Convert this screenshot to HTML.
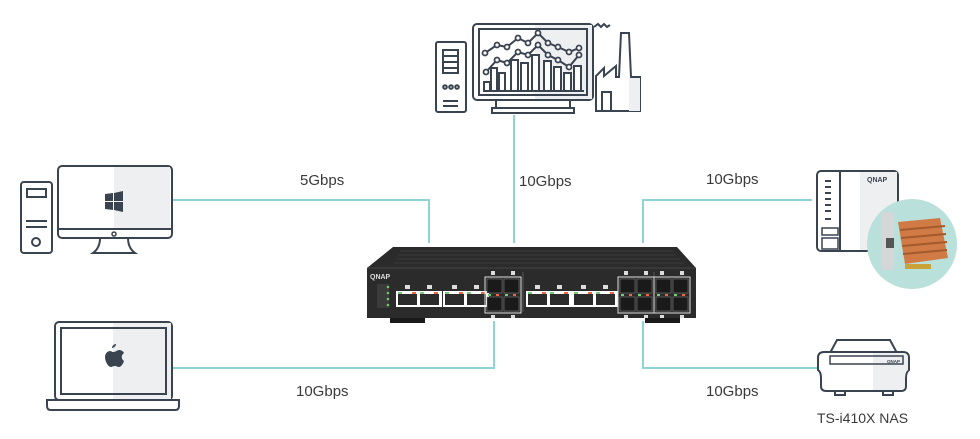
<!DOCTYPE html>
<html><head><meta charset="utf-8"><style>
body{margin:0;background:#fff;width:980px;height:439px;overflow:hidden;font-family:"Liberation Sans",sans-serif}
svg{position:absolute;left:0;top:0}
</style></head><body>
<svg width="980" height="439" viewBox="0 0 980 439">
<g stroke="#8fd4d4" stroke-width="2" fill="none">
<path d="M172 200H429V243"/>
<path d="M514 115V243"/>
<path d="M643 243V200H812"/>
<path d="M494 321V368H172"/>
<path d="M643 321V368H818"/>
</g>
<g font-size="15" fill="#3a3a3a">
<text x="300" y="185">5Gbps</text>
<text x="519" y="186">10Gbps</text>
<text x="706" y="184">10Gbps</text>
<text x="296" y="396">10Gbps</text>
<text x="706" y="396">10Gbps</text>
<text x="817" y="423" font-size="14">TS-i410X NAS</text>
</g>
<!-- desktop -->
<g stroke="#3a4350" stroke-width="2" fill="#fff">
<rect x="21" y="182" width="31" height="71" rx="3"/>
<rect x="27" y="189" width="19" height="8"/>
<path d="M26 221H47M26 227H47" />
<circle cx="36" cy="242" r="4"/>
<path d="M93 253 Q100 248 100 238 H128 Q128 248 135 253Z" fill="#fff"/>
<rect x="58" y="166" width="114" height="72" rx="4"/>
<path d="M114 167H170V229H114Z" fill="#eeeff1" stroke="none"/>
<path d="M59 229H171"/>
<circle cx="114" cy="234" r="2" stroke-width="1.5"/>
</g>
<path d="M105 194l8-1v8h-8zM114 193l9-2v10h-9zM105 202h8v8l-8-1zM114 202h9v10l-9-2z" fill="#3a4350"/>
<!-- laptop -->
<g stroke="#3a4350" stroke-width="2" fill="#fff">
<rect x="55" y="322" width="117" height="78" rx="4"/>
<path d="M113 323H171V399H113Z" fill="#eeeff1" stroke="none"/>
<rect x="61" y="328" width="105" height="66" fill="none"/>
<path d="M47 400H179V406Q179 410 175 410H51Q47 410 47 406Z"/>
</g>
<path d="M113 352c3 0 4-2 6-2 2 0 4 1 5 3-3 2-3 6 0 8-1 3-3 6-5 6-2 0-2-1-4-1s-3 1-4 1c-3 0-6-6-6-10 0-4 3-6 5-6 1 0 2 1 3 1zM116 344c0 2-2 4-4 4 0-2 2-4 4-4z" fill="#3a4350"/>
<!-- top: server+monitor+factory -->
<g stroke="#3a4350" stroke-width="2" fill="#fff">
<rect x="436" y="42" width="30" height="70" rx="2"/>
<path d="M443 50h15v23h-15zM443 56h15M443 62h15M443 68h15M443 101h15M443 106h15"/>
<circle cx="445" cy="87" r="1.8"/><circle cx="451" cy="87" r="1.8"/><circle cx="457" cy="87" r="1.8"/>
<path d="M596 111V76L604 68V76L616 66V77H619L621 33H629L631 77H640V111Z"/>
<path d="M629 78H640V111H629Z" fill="#eeeff1" stroke="none"/>
<rect x="602" y="92" width="9" height="19"/>
<path d="M594 27l4-3 3 3 3-3 3 3 3-2" fill="none"/>
<rect x="473" y="24" width="120" height="76" rx="4"/>
<path d="M535 25H592V99H535Z" fill="#eeeff1" stroke="none"/>
<rect x="479" y="29" width="108" height="66" fill="none"/>
<rect x="496" y="100" width="74" height="8"/>
<path d="M492 108H574V113H492Z"/>
</g>
<g stroke="#3a4350" stroke-width="2" fill="#fff">
<path d="M484 91H584" fill="none"/>
<rect x="484" y="82" width="6" height="9"/>
<rect x="491" y="68" width="6" height="23"/>
<rect x="499" y="73" width="6" height="18"/>
<rect x="511" y="60" width="7" height="31"/>
<rect x="521" y="63" width="7" height="28"/>
<rect x="532" y="55" width="7" height="36"/>
<rect x="544" y="61" width="7" height="30"/>
<rect x="554" y="67" width="7" height="24"/>
<rect x="564" y="73" width="7" height="18"/>
<rect x="574" y="66" width="7" height="25"/>
<polyline fill="none" points="485,53 497,45 507,47 518,38 528,43 538,33 548,43 558,47 569,52 579,48"/>
<polyline fill="none" points="486,72 497,60 507,63 518,52 528,55 538,45 548,55 558,60 569,67 579,55"/>
</g>
<g stroke="#3a4350" stroke-width="1.8" fill="#fff">
<circle cx="485" cy="53" r="2.5"/><circle cx="497" cy="45" r="2.5"/><circle cx="507" cy="47" r="2.5"/><circle cx="518" cy="38" r="2.5"/><circle cx="528" cy="43" r="2.5"/><circle cx="538" cy="33" r="2.5"/><circle cx="548" cy="43" r="2.5"/><circle cx="558" cy="47" r="2.5"/><circle cx="569" cy="52" r="2.5"/><circle cx="579" cy="48" r="2.5"/>
<circle cx="486" cy="72" r="2.5"/><circle cx="497" cy="60" r="2.5"/><circle cx="507" cy="63" r="2.5"/><circle cx="518" cy="52" r="2.5"/><circle cx="528" cy="55" r="2.5"/><circle cx="538" cy="45" r="2.5"/><circle cx="548" cy="55" r="2.5"/><circle cx="558" cy="60" r="2.5"/><circle cx="569" cy="67" r="2.5"/><circle cx="579" cy="55" r="2.5"/>
</g>
<!-- NAS right top -->
<g stroke="#3a4350" stroke-width="2" fill="#fff">
<rect x="817" y="171" width="81" height="80" rx="4"/>
<path d="M860 172H897V250H860Z" fill="#eeeff1" stroke="none"/>
<path d="M840 172V250"/>
<rect x="822" y="228" width="16" height="7" stroke-width="1.5"/>
<rect x="822" y="238" width="16" height="11" stroke-width="1.5"/>
</g>
<g fill="#3a4350"><rect x="825" y="180" width="6" height="2"/><rect x="825" y="186" width="6" height="2"/><rect x="825" y="192" width="6" height="2"/><rect x="825" y="198" width="6" height="2"/><rect x="825" y="204" width="6" height="2"/><rect x="825" y="210" width="6" height="2"/><rect x="825" y="218" width="6" height="2"/></g>
<text x="867" y="182" font-size="7" font-weight="bold" fill="#3a4350">QNAP</text>
<circle cx="912" cy="244" r="45" fill="#b9e0da"/>
<rect x="882" y="212" width="12" height="58" fill="#d4d6d8"/>
<path d="M898 222L940 218L948 258L905 264Z" fill="#d07a45"/>
<path d="M900 230L945 226M901 238L946 234M902 246L947 242M903 254L947 250" stroke="#a45a2c" stroke-width="2"/>
<rect x="886" y="238" width="8" height="10" fill="#555"/>
<rect x="905" y="264" width="26" height="5" fill="#c9a33a"/>
<!-- TS-i410X -->
<g stroke="#3a4350" stroke-width="2" fill="#fff">
<path d="M830 353L837 340H890L897 353Z"/>
<path d="M818 358Q818 352 824 352H903Q909 352 909 358V370Q906 372 906 378V386Q906 391 901 391H826Q821 391 821 386V378Q821 372 818 370Z"/>
<path d="M873 353H903Q908 353 908 358V370Q905 372 905 378V386Q905 390 901 390H873Z" fill="#eeeff1" stroke="none"/>
<rect x="830" y="356" width="73" height="8" fill="none" stroke-width="1.5"/>
<path d="M835 391v4h10v-4M883 391v4h10v-4" fill="none"/>
</g>
<text x="887" y="363" font-size="4.5" font-weight="bold" fill="#3a4350">QNAP</text>
<!-- switch -->
<path d="M393 247H677L696 268V318H367V268Z" fill="#2b2b2b"/>
<path d="M400 251H673M398 255H676M396 259H680M394 263H684" stroke="#3a3a3a" stroke-width="1"/>
<path d="M367 268H696" stroke="#444" stroke-width="1"/>
<rect x="390" y="318" width="35" height="5" fill="#1a1a1a"/>
<rect x="645" y="318" width="35" height="5" fill="#1a1a1a"/>
<text x="370" y="279" font-size="7" font-weight="bold" fill="#ddd">QNAP</text>
<rect x="377" y="284" width="12" height="24" fill="#3b3b3b"/>
<g fill="#6c6"><circle cx="388" cy="287" r="1.3"/><circle cx="388" cy="293" r="1.3"/><circle cx="388" cy="299" r="1.3"/><circle cx="388" cy="305" r="1.3"/></g>
<path d="M523 272V312M654 272V312" stroke="#555"/>
<g id="rj">
<rect x="396" y="291" width="46" height="16" fill="#fff"/>
<rect x="398" y="294" width="19" height="11" fill="#2b2b2b"/><rect x="420" y="294" width="19" height="11" fill="#2b2b2b"/>
<rect x="398" y="292" width="4" height="2" fill="#7c7"/><rect x="412" y="292" width="4" height="2" fill="#e64"/>
<rect x="420" y="292" width="4" height="2" fill="#7c7"/><rect x="434" y="292" width="4" height="2" fill="#e64"/>
<rect x="405" y="285" width="5" height="4" fill="#ddd"/><rect x="427" y="285" width="5" height="4" fill="#ddd"/>
</g>
<use href="#rj" x="47"/><use href="#rj" x="130"/><use href="#rj" x="176"/>
<g id="sfp">
<rect x="485" y="277" width="36" height="36" fill="none" stroke="#ddd" stroke-width="1"/>
<rect x="487" y="279" width="15" height="14" fill="#1a1a1a" stroke="#888" stroke-width=".5"/><rect x="504" y="279" width="15" height="14" fill="#1a1a1a" stroke="#888" stroke-width=".5"/>
<rect x="487" y="297" width="15" height="14" fill="#1a1a1a" stroke="#888" stroke-width=".5"/><rect x="504" y="297" width="15" height="14" fill="#1a1a1a" stroke="#888" stroke-width=".5"/>
<rect x="488" y="294" width="3" height="2" fill="#7c7"/><rect x="496" y="294" width="3" height="2" fill="#e64"/><rect x="505" y="294" width="3" height="2" fill="#7c7"/><rect x="513" y="294" width="3" height="2" fill="#e64"/>
<rect x="491" y="271" width="4" height="4" fill="#ddd"/><rect x="511" y="271" width="4" height="4" fill="#ddd"/>
<rect x="491" y="315" width="4" height="3" fill="#ddd"/><rect x="511" y="315" width="4" height="3" fill="#ddd"/>
</g>
<use href="#sfp" x="133"/><use href="#sfp" x="169"/>
</svg>
</body></html>
